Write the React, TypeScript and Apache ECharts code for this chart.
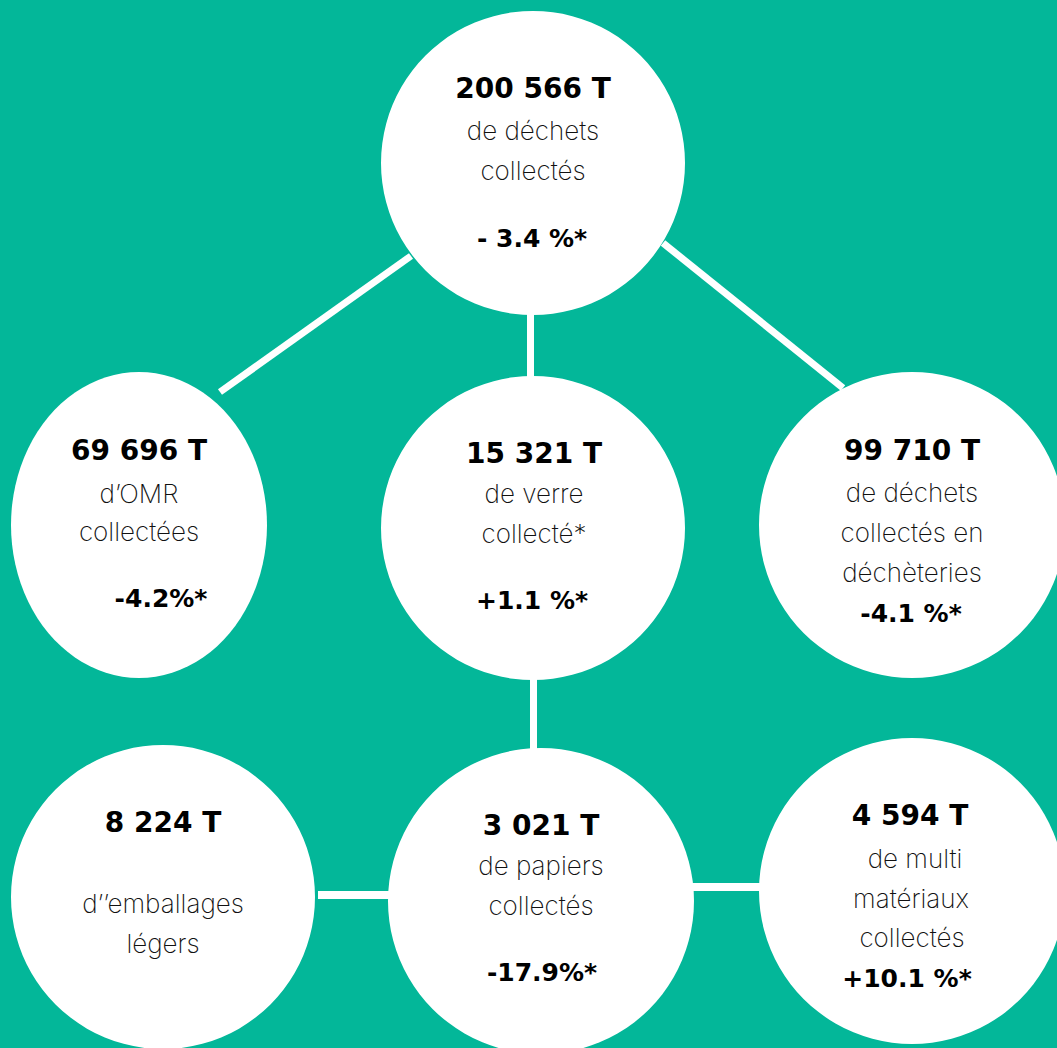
import React, { useEffect, useRef } from "react";
import * as echarts from "echarts";

// ---- data ----
const tonnages = ["200 566 T", "69 696 T", "15 321 T", "99 710 T", "8 224 T", "3 021 T", "4 594 T"];
const descriptions = [
  ["de déchets", "collectés"],
  ["d’OMR", "collectées"],
  ["de verre", "collecté*"],
  ["de déchets", "collectés en", "déchèteries"],
  ["d’’emballages", "légers"],
  ["de papiers", "collectés"],
  ["de multi", "matériaux", "collectés"],
];
const changes = ["- 3.4 %*", "-4.2%*", "+1.1 %*", "-4.1 %*", "", "-17.9%*", "+10.1 %*"];

// ---- layout (pixels) ----
const W = 1057;
const H = 1048;
const bubbleCenters = [[533, 163], [139, 525], [533, 528], [912, 525], [163, 897], [541, 901], [912, 891]];
const bubbleRadii = [[152, 152], [128, 153], [152, 152], [153, 153], [152, 152], [153, 153], [153, 153]];
const tonnagePos = [[533, 88], [139, 450], [534, 453], [912, 450], [163, 822], [541, 825], [910, 815]];
const descX = [[533, 533], [139, 139], [534, 534], [912, 912, 912], [163, 163], [541, 541], [915, 911, 912]];
const descY = [[130, 170], [493, 531], [493, 533], [492, 532, 572], [903, 943], [865, 905], [858, 898, 937]];
const changePos = [[532, 238], [161, 598], [532, 600], [911, 613], [0, 0], [542, 972], [907, 978]];
const connectors = [
  [[220, 392], [411, 256], 7],
  [[663, 243], [843, 388], 7],
  [[530, 310], [530, 380], 7],
  [[533.5, 678], [533.5, 750], 7],
  [[318, 895], [390, 895], 8],
  [[690, 887], [762, 887], 8],
];

const TEAL = "#03B799";
const TONNAGE_FONT = "bold 28px 'DejaVu Sans'";
const CHANGE_FONT = "bold 25px 'DejaVu Sans'";
const LIGHT_FONT = "200 26px Inter";

export default function App() {
  const ref = useRef<HTMLDivElement>(null);
  useEffect(() => {
    document.body.style.margin = "0";
    if (!ref.current) return;
    const chart = echarts.init(ref.current, undefined, { renderer: "svg" });

    const bubbles = bubbleCenters.map((c, i) => ({
      value: c,
      symbolSize: [bubbleRadii[i][0] * 2, bubbleRadii[i][1] * 2],
    }));

    const texts: any[] = [];
    const addText = (x: number, y: number, s: string, font: string, fill: string) => {
      texts.push({
        type: "text",
        x,
        y,
        z: 100,
        silent: true,
        style: { text: s, font, fill, align: "center", verticalAlign: "middle" },
      });
    };
    tonnages.forEach((t, i) => {
      addText(tonnagePos[i][0], tonnagePos[i][1], t, TONNAGE_FONT, "#000");
      descriptions[i].forEach((d, j) => addText(descX[i][j], descY[i][j], d, LIGHT_FONT, "#111"));
      if (changes[i]) addText(changePos[i][0], changePos[i][1], changes[i], CHANGE_FONT, "#000");
    });

    chart.setOption({
      animation: false,
      backgroundColor: TEAL,
      grid: { left: 0, right: 0, top: 0, bottom: 0 },
      xAxis: { type: "value", min: 0, max: W, show: false },
      yAxis: { type: "value", min: 0, max: H, inverse: true, show: false },
      graphic: texts,
      series: [
        {
          type: "lines",
          coordinateSystem: "cartesian2d",
          z: 1,
          silent: true,
          data: connectors.map((c: any) => ({
            coords: [c[0], c[1]],
            lineStyle: { width: c[2] },
          })),
          lineStyle: { color: "#fff", opacity: 1, width: 7, type: "solid" },
        },
        {
          type: "scatter",
          z: 2,
          silent: true,
          clip: false,
          symbol: "circle",
          data: bubbles,
          itemStyle: { color: "#fff", opacity: 1 },
        },
      ],
    });
    return () => chart.dispose();
  }, []);
  return <div ref={ref} style={{ width: W, height: H }} />;
}
